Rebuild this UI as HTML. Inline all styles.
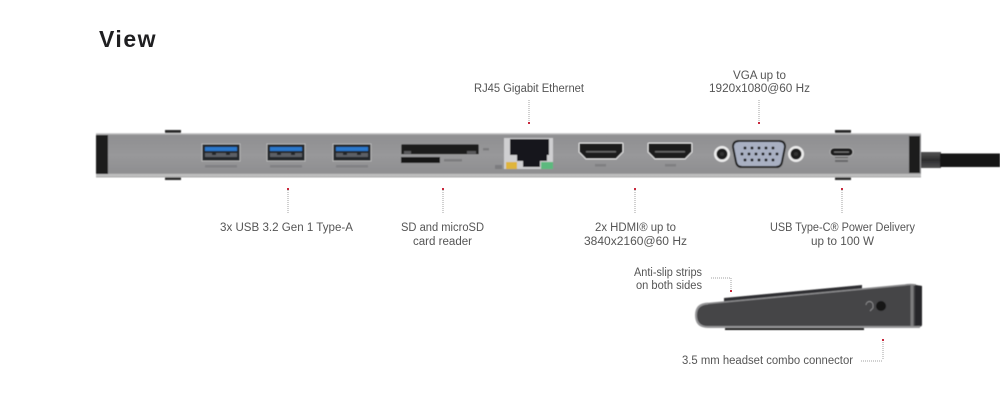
<!DOCTYPE html>
<html><head><meta charset="utf-8"><style>
html,body{margin:0;padding:0;background:#fff;width:1000px;height:417px;overflow:hidden}
svg{display:block}
text{font-family:"Liberation Sans",sans-serif;font-size:11.5px;fill:#555}
.d{stroke:#a2a2a2;stroke-width:1;stroke-dasharray:1 1;fill:none}
.r{fill:#c8283c}
</style></head><body>
<svg width="1000" height="417" viewBox="0 0 1000 417" xmlns="http://www.w3.org/2000/svg">
<defs>
<filter id="soft" x="-2%" y="-10%" width="104%" height="120%"><feGaussianBlur stdDeviation="0.45"/></filter>
<linearGradient id="bar" x1="0" y1="0" x2="0" y2="1"><stop offset="0" stop-color="#dedede"/><stop offset=".05" stop-color="#8f8f91"/><stop offset=".5" stop-color="#98989a"/><stop offset=".9" stop-color="#8e8e90"/><stop offset=".94" stop-color="#c6c6c6"/><stop offset="1" stop-color="#a8a8a8"/></linearGradient>
<linearGradient id="plug" x1="0" y1="0" x2="0" y2="1"><stop offset="0" stop-color="#555"/><stop offset=".5" stop-color="#2c2c2e"/><stop offset="1" stop-color="#505052"/></linearGradient>
<g id="usb"><rect x="0" y="0" width="38" height="17" fill="#23252a" stroke="#d2d2d2" stroke-width=".7"/><rect x="3" y="3" width="32" height="4" fill="#2c78cc"/><path d="M3 9h7v2h4v-2h10v2h4v-2h7v4H3z" fill="#8b8f96" opacity=".55"/><rect x="3" y="21" width="32" height="2.500" fill="#6a6a6c" opacity=".4"/></g>
<g id="hdmi"><path d="M1 0H43a1 1 0 0 1 1 1V9L38 15a2 2 0 0 1-1 1H7a2 2 0 0 1-1-1L0 9V1a1 1 0 0 1 1-1z" fill="#1c1c1e" stroke="#e6e6e6" stroke-width="1"/><rect x="7" y="8" width="30" height="1.500" fill="#666"/></g>
<g id="jack"><circle r="8" fill="#ececec"/><circle r="5.500" fill="#1c1c1e"/><circle r="2" fill="#333"/></g>
</defs>

<text x="99" y="47" style="font-size:23px;font-weight:bold;fill:#1f1f21;letter-spacing:1.5px" textLength="58" lengthAdjust="spacingAndGlyphs">View</text>

<g filter="url(#soft)">
<!-- tabs -->
<g fill="#2a2a2c"><rect x="165" y="130" width="16" height="3"/><rect x="165" y="177" width="16" height="3"/><rect x="835" y="130" width="16" height="3"/><rect x="835" y="177" width="16" height="3"/></g>

<!-- cable -->
<rect x="920" y="152" width="21" height="16" fill="url(#plug)"/>
<rect x="940" y="153.500" width="60" height="13.500" fill="#161618"/>

<!-- bar -->
<rect x="96" y="133" width="825" height="44.500" fill="url(#bar)"/>
<rect x="96" y="135" width="12" height="39" fill="#1b1b1d"/>
<rect x="909" y="136" width="11" height="37" fill="#1b1b1d"/>

<!-- USB-A -->
<use href="#usb" x="202" y="144"/><use href="#usb" x="267" y="144"/><use href="#usb" x="333" y="144"/>

<!-- SD -->
<path d="M402 144H478a1 1 0 0 1 1 1V154.500H401V145a1 1 0 0 1 1-1z" fill="#1b1b1d" stroke="#bbb" stroke-width=".4"/>
<path d="M404 151H411V154H404zM467 151H476V154H467z" fill="#5a5a5c"/>
<rect x="401" y="157" width="39" height="6" fill="#161618"/>
<rect x="483" y="148" width="6" height="2.500" fill="#6c6c6e" opacity=".6"/>
<rect x="444" y="159" width="18" height="2.500" fill="#6c6c6e" opacity=".6"/>

<!-- RJ45 -->
<rect x="504" y="138" width="49" height="31" fill="#cfcfd1"/>
<path d="M510 139H549V155H547V161H540V167H523V161H517V155H510z" fill="#19191b"/>
<rect x="506" y="162" width="11" height="7" fill="#dfb53a"/>
<rect x="541" y="162" width="12" height="7" fill="#5cb97e"/>
<rect x="495" y="165" width="7" height="4" fill="#747476" opacity=".7"/>

<!-- HDMI -->
<use href="#hdmi" x="579" y="143"/><use href="#hdmi" x="648" y="143"/>
<rect x="595" y="164" width="11" height="2.500" fill="#6c6c6e" opacity=".5"/>
<rect x="665" y="164" width="11" height="2.500" fill="#6c6c6e" opacity=".5"/>

<!-- VGA -->
<use href="#jack" x="722" y="154"/><use href="#jack" x="796" y="154"/>
<path d="M739 141H779Q785 141 785 147L782 162Q781 167 776 167H742Q737 167 736 162L733 147Q733 141 739 141z" fill="#a9b0c2" stroke="#1c1c1e" stroke-width="2"/>
<g fill="#1a1a1e"><circle cx="745" cy="148" r="1.500"/><circle cx="752" cy="148" r="1.500"/><circle cx="759" cy="148" r="1.500"/><circle cx="766" cy="148" r="1.500"/><circle cx="773" cy="148" r="1.500"/><circle cx="742" cy="154" r="1.500"/><circle cx="749" cy="154" r="1.500"/><circle cx="756" cy="154" r="1.500"/><circle cx="763" cy="154" r="1.500"/><circle cx="770" cy="154" r="1.500"/><circle cx="777" cy="154" r="1.500"/><circle cx="745" cy="160" r="1.500"/><circle cx="752" cy="160" r="1.500"/><circle cx="759" cy="160" r="1.500"/><circle cx="766" cy="160" r="1.500"/><circle cx="773" cy="160" r="1.500"/></g>

<!-- USB-C -->
<rect x="830" y="148" width="23" height="8" rx="4" fill="#1a1a1c" stroke="#d0d0d0" stroke-width=".6"/>
<rect x="834" y="151.500" width="15" height="1.200" fill="#777"/>
<rect x="835" y="157" width="13" height="1" fill="#555"/><rect x="835" y="160" width="13" height="2" fill="#555" opacity=".7"/>

<!-- side view -->
<path d="M724 298L862 285V290L724 304z" fill="#2e2e30"/>
<rect x="725" y="327" width="139" height="3" fill="#141416"/>
<path d="M708 303.500L905 285Q912 284 916 285L922 286V325Q922 327 918 327H708Q696 327 696 315Q696 304 708 303.500z" fill="#444446"/>
<path d="M708 303.500L905 285Q910 284 916 285" fill="none" stroke="#8a8a8c" stroke-width="1.500"/>
<path d="M708 303.500Q696 304 696 315Q696 327 708 327H920" fill="none" stroke="#949496" stroke-width="2"/>
<path d="M915 285L922 286V325L915 326Z" fill="#27272a"/>
<path d="M912 285V326" fill="none" stroke="#7c7c7e" stroke-width="3"/>
<circle cx="881" cy="306" r="5" fill="#161618"/>
<path d="M866 305a3.500 3.500 0 0 1 7 0v3l-3 3" fill="none" stroke="#8d8d8f" stroke-width=".9"/>
</g>

<!-- connectors -->
<path class="d" d="M288 190V213M443 190V213M635 190V213M842 190V213M529 100V122M759 100V122"/>
<g class="r"><rect x="287" y="188" width="2" height="2"/><rect x="442" y="188" width="2" height="2"/><rect x="634" y="188" width="2" height="2"/><rect x="841" y="188" width="2" height="2"/><rect x="528" y="122" width="2" height="2"/><rect x="758" y="122" width="2" height="2"/></g>
<path class="d" d="M711 278H731V290M883 342V360M861 361H883"/>
<g class="r"><rect x="730" y="290" width="2" height="2"/><rect x="882" y="339" width="2" height="2"/></g>

<!-- labels -->
<text x="220" y="231" textLength="133" lengthAdjust="spacingAndGlyphs">3x USB 3.2 Gen 1 Type-A</text>
<text x="401" y="231" textLength="83" lengthAdjust="spacingAndGlyphs">SD and microSD</text>
<text x="413" y="245" textLength="59" lengthAdjust="spacingAndGlyphs">card reader</text>
<text x="595" y="231" textLength="81" lengthAdjust="spacingAndGlyphs">2x HDMI® up to</text>
<text x="584" y="245" textLength="103" lengthAdjust="spacingAndGlyphs">3840x2160@60 Hz</text>
<text x="770" y="231" textLength="145" lengthAdjust="spacingAndGlyphs">USB Type-C® Power Delivery</text>
<text x="811" y="245" textLength="63" lengthAdjust="spacingAndGlyphs">up to 100 W</text>
<text x="474" y="92" textLength="110" lengthAdjust="spacingAndGlyphs">RJ45 Gigabit Ethernet</text>
<text x="733" y="79" textLength="53" lengthAdjust="spacingAndGlyphs">VGA up to</text>
<text x="709" y="92" textLength="101" lengthAdjust="spacingAndGlyphs">1920x1080@60 Hz</text>
<text x="634" y="276" textLength="68" lengthAdjust="spacingAndGlyphs">Anti-slip strips</text>
<text x="636" y="289" textLength="66" lengthAdjust="spacingAndGlyphs">on both sides</text>
<text x="682" y="364" textLength="171" lengthAdjust="spacingAndGlyphs">3.5 mm headset combo connector</text>
</svg>
</body></html>
